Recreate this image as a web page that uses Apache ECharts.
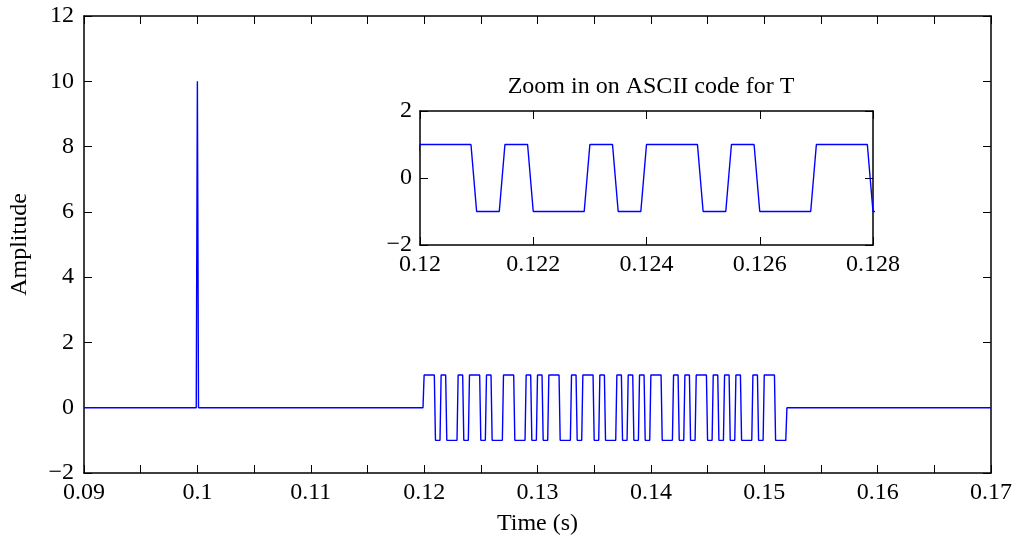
<!DOCTYPE html>
<html>
<head>
<meta charset="utf-8">
<script src="https://cdn.jsdelivr.net/npm/echarts@6/dist/echarts.min.js"></script>
<style>
  html, body { margin: 0; padding: 0; background: #fff; }
  #chart { width: 1020px; height: 544px; }
</style>
</head>
<body>
<div id="chart"></div>
<script>
  // Sync pulse.
  const pulseTimes = [0.0999, 0.1, 0.1001];
  const pulseValues = [0, 10, 0];

  // Chip levels of the burst, 0.5 ms each from t = 0.12 s.
  const chips = [
    1, 1, -1, 1, -1, -1, 1, -1, 1, 1, -1, 1, -1, -1, 1, 1,
    -1, -1, 1, -1, 1, -1, 1, 1, -1, -1, 1, -1, 1, 1, -1, 1,
    -1, -1, 1, -1, 1, -1, 1, -1, 1, 1, -1, -1, 1, -1, 1, -1,
    1, 1, -1, 1, -1, 1, -1, 1, -1, -1, 1, -1, 1, 1, -1, -1
  ];
  const burstStart = 0.12;
  const chipLength = 0.0005;
  const sampleStep = 0.0001;

  const xRange = [0.09, 0.17];
  const yRange = [-2, 12];
  const zoomXRange = [0.12, 0.128];
  const zoomYRange = [-2, 2];

  // Build the sampled signal.
  let signal = [[xRange[0], 0]];
  for (let i = 0; i < pulseTimes.length; i++) signal.push([pulseTimes[i], pulseValues[i]]);
  signal.push([burstStart - sampleStep, 0]);
  chips.forEach(function (c, k) {
    const t0 = burstStart + k * chipLength;
    signal.push([+t0.toFixed(5), c]);
    signal.push([+(t0 + chipLength - sampleStep).toFixed(5), c]);
  });
  signal.push([+(burstStart + chips.length * chipLength).toFixed(5), 0]);
  signal.push([xRange[1], 0]);

  const font = 'Liberation Serif';
  const fs = 24;
  const minus = v => String(v).replace('-', '\u2212');

  function boxAxis(extra) {
    return Object.assign({
      type: 'value',
      axisLine: { show: true, onZero: false, lineStyle: { color: '#000', width: 1.5 } },
      axisTick: { show: true, inside: true, length: 8, lineStyle: { color: '#000', width: 1 } },
      splitLine: { show: false },
      axisLabel: { show: false }
    }, extra);
  }

  const labelStyle = { color: '#000', fontFamily: font, fontSize: fs };

  const option = {
    animation: false,
    backgroundColor: '#fff',
    title: {
      text: 'Zoom in on ASCII code for T',
      left: 646, top: 70, textAlign: 'center',
      textStyle: { color: '#000', fontFamily: font, fontSize: fs, fontWeight: 'normal' }
    },
    grid: [
      { left: 84, right: 29, top: 16, bottom: 71 },
      { left: 420, right: 147, top: 111, height: 134 }
    ],
    xAxis: [
      boxAxis({
        gridIndex: 0, position: 'bottom', min: xRange[0], max: xRange[1], interval: 0.005,
        axisLabel: Object.assign({ show: true, margin: 8,
          formatter: v => (Math.round(v * 1000) % 10 === 0 ? String(+v.toFixed(3)) : '') }, labelStyle),
        name: 'Time (s)', nameLocation: 'middle', nameGap: 39,
        nameTextStyle: labelStyle
      }),
      boxAxis({ gridIndex: 0, position: 'top', min: xRange[0], max: xRange[1], interval: 0.005 }),
      boxAxis({
        gridIndex: 1, position: 'bottom', min: zoomXRange[0], max: zoomXRange[1], interval: 0.002,
        axisLabel: Object.assign({ show: true, margin: 8, formatter: v => String(+v.toFixed(3)) }, labelStyle)
      }),
      boxAxis({ gridIndex: 1, position: 'top', min: zoomXRange[0], max: zoomXRange[1], interval: 0.002 })
    ],
    yAxis: [
      boxAxis({
        gridIndex: 0, position: 'left', min: yRange[0], max: yRange[1], interval: 2,
        axisLabel: Object.assign({ show: true, margin: 10, formatter: minus }, labelStyle),
        name: 'Amplitude', nameLocation: 'middle', nameGap: 52,
        nameTextStyle: labelStyle
      }),
      boxAxis({ gridIndex: 0, position: 'right', min: yRange[0], max: yRange[1], interval: 2 }),
      boxAxis({
        gridIndex: 1, position: 'left', min: zoomYRange[0], max: zoomYRange[1], interval: 2,
        axisLabel: Object.assign({ show: true, margin: 8, formatter: minus }, labelStyle)
      }),
      boxAxis({ gridIndex: 1, position: 'right', min: zoomYRange[0], max: zoomYRange[1], interval: 2 })
    ],
    series: [
      {
        type: 'line', xAxisIndex: 0, yAxisIndex: 0, data: signal,
        showSymbol: false, lineStyle: { color: '#0000ff', width: 1.4 }
      },
      {
        type: 'line', xAxisIndex: 2, yAxisIndex: 2, data: signal,
        showSymbol: false, clip: true, lineStyle: { color: '#0000ff', width: 1.4 }
      }
    ]
  };

  echarts.init(document.getElementById('chart')).setOption(option);
</script>
</body>
</html>
